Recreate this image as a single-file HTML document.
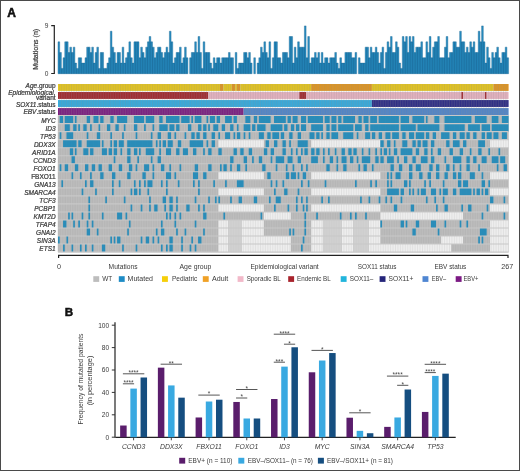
<!DOCTYPE html>
<html><head><meta charset="utf-8"><style>
html,body{margin:0;padding:0;background:#fff;}
body{width:520px;height:471px;overflow:hidden;font-family:"Liberation Sans",sans-serif;}
svg{display:block;filter:blur(0.25px);}
text.bw{stroke:#3a3a3a;stroke-width:0.22px;paint-order:stroke;}
</style></head><body>
<svg width="520" height="471" viewBox="0 0 520 471">
<rect x="0" y="0" width="520" height="471" fill="#fff"/>
<text x="7.3" y="16.5" font-size="12" font-weight="bold" fill="#111" stroke="#111" stroke-width="0.55" font-family='"Liberation Sans", sans-serif'>A</text>
<path d="M58 73.7V41.83H59.69V73.7zM59.69 73.7V52.46H61.38V73.7zM61.38 73.7V68.39H63.06V73.7zM63.06 73.7V57.77H64.75V73.7zM64.75 73.7V41.83H66.44V73.7zM66.44 73.7V41.83H68.13V73.7zM68.13 73.7V52.46H69.81V73.7zM69.81 73.7V47.14H71.5V73.7zM71.5 73.7V52.46H73.19V73.7zM73.19 73.7V47.14H74.88V73.7zM74.88 73.7V63.08H76.56V73.7zM76.56 73.7V68.39H78.25V73.7zM78.25 73.7V57.77H79.94V73.7zM79.94 73.7V57.77H81.63V73.7zM81.63 73.7V63.08H83.31V73.7zM83.31 73.7V63.08H85V73.7zM85 73.7V57.77H86.69V73.7zM86.69 73.7V47.14H88.38V73.7zM88.38 73.7V47.14H90.07V73.7zM90.07 73.7V52.46H91.75V73.7zM91.75 73.7V47.14H93.44V73.7zM93.44 73.7V63.08H95.13V73.7zM95.13 73.7V52.46H96.82V73.7zM96.82 73.7V47.14H98.5V73.7zM98.5 73.7V68.39H100.19V73.7zM100.19 73.7V52.46H101.88V73.7zM101.88 73.7V52.46H103.57V73.7zM103.57 73.7V68.39H105.25V73.7zM105.25 73.7V68.39H106.94V73.7zM106.94 73.7V63.08H108.63V73.7zM108.63 73.7V57.77H110.32V73.7zM110.32 73.7V31.21H112V73.7zM112 73.7V47.14H113.69V73.7zM113.69 73.7V52.46H115.38V73.7zM115.38 73.7V63.08H117.07V73.7zM117.07 73.7V52.46H118.76V73.7zM118.76 73.7V52.46H120.44V73.7zM120.44 73.7V63.08H122.13V73.7zM122.13 73.7V47.14H123.82V73.7zM123.82 73.7V63.08H125.51V73.7zM125.51 73.7V57.77H127.19V73.7zM127.19 73.7V52.46H128.88V73.7zM128.88 73.7V41.83H130.57V73.7zM130.57 73.7V57.77H132.26V73.7zM132.26 73.7V63.08H133.94V73.7zM133.94 73.7V41.83H135.63V73.7zM135.63 73.7V41.83H137.32V73.7zM137.32 73.7V41.83H139.01V73.7zM139.01 73.7V57.77H140.69V73.7zM140.69 73.7V47.14H142.38V73.7zM142.38 73.7V52.46H144.07V73.7zM144.07 73.7V57.77H145.76V73.7zM145.76 73.7V47.14H147.44V73.7zM147.44 73.7V41.83H149.13V73.7zM149.13 73.7V36.52H150.82V73.7zM150.82 73.7V41.83H152.51V73.7zM152.51 73.7V47.14H154.2V73.7zM154.2 73.7V57.77H155.88V73.7zM155.88 73.7V52.46H157.57V73.7zM157.57 73.7V47.14H159.26V73.7zM159.26 73.7V47.14H160.95V73.7zM160.95 73.7V52.46H162.63V73.7zM162.63 73.7V57.77H164.32V73.7zM164.32 73.7V52.46H166.01V73.7zM166.01 73.7V47.14H167.7V73.7zM167.7 73.7V52.46H169.38V73.7zM169.38 73.7V31.21H171.07V73.7zM171.07 73.7V41.83H172.76V73.7zM172.76 73.7V63.08H174.45V73.7zM174.45 73.7V57.77H176.13V73.7zM176.13 73.7V52.46H177.82V73.7zM177.82 73.7V52.46H179.51V73.7zM179.51 73.7V47.14H181.2V73.7zM181.2 73.7V63.08H182.89V73.7zM182.89 73.7V57.77H184.57V73.7zM184.57 73.7V47.14H186.26V73.7zM186.26 73.7V57.77H187.95V73.7zM189.64 73.7V57.77H191.32V73.7zM191.32 73.7V52.46H193.01V73.7zM193.01 73.7V52.46H194.7V73.7zM194.7 73.7V41.83H196.39V73.7zM196.39 73.7V52.46H198.07V73.7zM198.07 73.7V36.52H199.76V73.7zM199.76 73.7V52.46H201.45V73.7zM201.45 73.7V68.39H203.14V73.7zM203.14 73.7V41.83H204.82V73.7zM204.82 73.7V52.46H206.51V73.7zM206.51 73.7V52.46H208.2V73.7zM208.2 73.7V52.46H209.89V73.7zM209.89 73.7V63.08H211.58V73.7zM211.58 73.7V68.39H213.26V73.7zM213.26 73.7V57.77H214.95V73.7zM214.95 73.7V63.08H216.64V73.7zM216.64 73.7V57.77H218.33V73.7zM218.33 73.7V57.77H220.01V73.7zM220.01 73.7V63.08H221.7V73.7zM221.7 73.7V57.77H223.39V73.7zM223.39 73.7V57.77H225.08V73.7zM225.08 73.7V57.77H226.76V73.7zM226.76 73.7V57.77H228.45V73.7zM228.45 73.7V52.46H230.14V73.7zM230.14 73.7V57.77H231.83V73.7zM231.83 73.7V57.77H233.51V73.7zM235.2 73.7V52.46H236.89V73.7zM236.89 73.7V68.39H238.58V73.7zM238.58 73.7V63.08H240.27V73.7zM240.27 73.7V63.08H241.95V73.7zM241.95 73.7V63.08H243.64V73.7zM243.64 73.7V52.46H245.33V73.7zM245.33 73.7V52.46H247.02V73.7zM247.02 73.7V57.77H248.7V73.7zM248.7 73.7V52.46H250.39V73.7zM250.39 73.7V63.08H252.08V73.7zM253.77 73.7V57.77H255.45V73.7zM257.14 73.7V63.08H258.83V73.7zM258.83 73.7V57.77H260.52V73.7zM260.52 73.7V47.14H262.2V73.7zM262.2 73.7V52.46H263.89V73.7zM263.89 73.7V41.83H265.58V73.7zM265.58 73.7V52.46H267.27V73.7zM267.27 73.7V57.77H268.96V73.7zM268.96 73.7V41.83H270.64V73.7zM270.64 73.7V68.39H272.33V73.7zM272.33 73.7V57.77H274.02V73.7zM274.02 73.7V41.83H275.71V73.7zM275.71 73.7V41.83H277.39V73.7zM277.39 73.7V57.77H279.08V73.7zM279.08 73.7V57.77H280.77V73.7zM280.77 73.7V63.08H282.46V73.7zM282.46 73.7V52.46H284.14V73.7zM284.14 73.7V52.46H285.83V73.7zM285.83 73.7V52.46H287.52V73.7zM287.52 73.7V57.77H289.21V73.7zM289.21 73.7V36.52H290.89V73.7zM290.89 73.7V36.52H292.58V73.7zM292.58 73.7V63.08H294.27V73.7zM294.27 73.7V47.14H295.96V73.7zM295.96 73.7V57.77H297.64V73.7zM297.64 73.7V41.83H299.33V73.7zM299.33 73.7V47.14H301.02V73.7zM301.02 73.7V47.14H302.71V73.7zM302.71 73.7V47.14H304.4V73.7zM304.4 73.7V25.9H306.08V73.7zM306.08 73.7V57.77H307.77V73.7zM307.77 73.7V36.52H309.46V73.7zM309.46 73.7V63.08H311.15V73.7zM311.15 73.7V57.77H312.83V73.7zM312.83 73.7V57.77H314.52V73.7zM314.52 73.7V52.46H316.21V73.7zM316.21 73.7V57.77H317.9V73.7zM317.9 73.7V52.46H319.58V73.7zM319.58 73.7V63.08H321.27V73.7zM321.27 73.7V52.46H322.96V73.7zM322.96 73.7V63.08H324.65V73.7zM324.65 73.7V57.77H326.33V73.7zM326.33 73.7V57.77H328.02V73.7zM328.02 73.7V63.08H329.71V73.7zM329.71 73.7V57.77H331.4V73.7zM331.4 73.7V57.77H333.09V73.7zM333.09 73.7V57.77H334.77V73.7zM334.77 73.7V52.46H336.46V73.7zM336.46 73.7V63.08H338.15V73.7zM338.15 73.7V68.39H339.84V73.7zM339.84 73.7V57.77H341.52V73.7zM341.52 73.7V63.08H343.21V73.7zM343.21 73.7V63.08H344.9V73.7zM344.9 73.7V52.46H346.59V73.7zM346.59 73.7V52.46H348.27V73.7zM348.27 73.7V52.46H349.96V73.7zM349.96 73.7V52.46H351.65V73.7zM351.65 73.7V57.77H353.34V73.7zM353.34 73.7V57.77H355.02V73.7zM355.02 73.7V52.46H356.71V73.7zM358.4 73.7V57.77H360.09V73.7zM360.09 73.7V63.08H361.78V73.7zM361.78 73.7V63.08H363.46V73.7zM363.46 73.7V63.08H365.15V73.7zM365.15 73.7V47.14H366.84V73.7zM366.84 73.7V47.14H368.53V73.7zM368.53 73.7V57.77H370.21V73.7zM370.21 73.7V47.14H371.9V73.7zM371.9 73.7V52.46H373.59V73.7zM373.59 73.7V52.46H375.28V73.7zM375.28 73.7V47.14H376.96V73.7zM376.96 73.7V52.46H378.65V73.7zM378.65 73.7V63.08H380.34V73.7zM380.34 73.7V52.46H382.03V73.7zM382.03 73.7V47.14H383.71V73.7zM383.71 73.7V68.39H385.4V73.7zM385.4 73.7V52.46H387.09V73.7zM387.09 73.7V41.83H388.78V73.7zM388.78 73.7V47.14H390.47V73.7zM390.47 73.7V36.52H392.15V73.7zM392.15 73.7V52.46H393.84V73.7zM393.84 73.7V52.46H395.53V73.7zM395.53 73.7V41.83H397.22V73.7zM397.22 73.7V47.14H398.9V73.7zM398.9 73.7V63.08H400.59V73.7zM400.59 73.7V68.39H402.28V73.7zM402.28 73.7V36.52H403.97V73.7zM403.97 73.7V41.83H405.65V73.7zM405.65 73.7V36.52H407.34V73.7zM407.34 73.7V52.46H409.03V73.7zM409.03 73.7V36.52H410.72V73.7zM410.72 73.7V41.83H412.4V73.7zM412.4 73.7V36.52H414.09V73.7zM414.09 73.7V52.46H415.78V73.7zM415.78 73.7V47.14H417.47V73.7zM417.47 73.7V47.14H419.16V73.7zM419.16 73.7V47.14H420.84V73.7zM420.84 73.7V41.83H422.53V73.7zM422.53 73.7V57.77H424.22V73.7zM424.22 73.7V57.77H425.91V73.7zM425.91 73.7V41.83H427.59V73.7zM427.59 73.7V52.46H429.28V73.7zM429.28 73.7V36.52H430.97V73.7zM430.97 73.7V57.77H432.66V73.7zM432.66 73.7V47.14H434.34V73.7zM434.34 73.7V41.83H436.03V73.7zM436.03 73.7V41.83H437.72V73.7zM437.72 73.7V36.52H439.41V73.7zM439.41 73.7V57.77H441.09V73.7zM441.09 73.7V57.77H442.78V73.7zM442.78 73.7V57.77H444.47V73.7zM444.47 73.7V47.14H446.16V73.7zM446.16 73.7V36.52H447.84V73.7zM447.84 73.7V57.77H449.53V73.7zM449.53 73.7V52.46H451.22V73.7zM451.22 73.7V52.46H452.91V73.7zM452.91 73.7V41.83H454.6V73.7zM454.6 73.7V41.83H456.28V73.7zM456.28 73.7V47.14H457.97V73.7zM457.97 73.7V47.14H459.66V73.7zM459.66 73.7V31.21H461.35V73.7zM461.35 73.7V41.83H463.03V73.7zM463.03 73.7V41.83H464.72V73.7zM464.72 73.7V52.46H466.41V73.7zM466.41 73.7V47.14H468.1V73.7zM468.1 73.7V52.46H469.78V73.7zM469.78 73.7V41.83H471.47V73.7zM471.47 73.7V47.14H473.16V73.7zM473.16 73.7V41.83H474.85V73.7zM474.85 73.7V52.46H476.53V73.7zM476.53 73.7V52.46H478.22V73.7zM478.22 73.7V31.21H479.91V73.7zM479.91 73.7V41.83H481.6V73.7zM481.6 73.7V25.9H483.29V73.7zM483.29 73.7V41.83H484.97V73.7zM484.97 73.7V63.08H486.66V73.7zM486.66 73.7V47.14H488.35V73.7zM488.35 73.7V57.77H490.04V73.7zM490.04 73.7V68.39H491.72V73.7zM491.72 73.7V52.46H493.41V73.7zM493.41 73.7V57.77H495.1V73.7zM495.1 73.7V52.46H496.79V73.7zM496.79 73.7V47.14H498.47V73.7zM498.47 73.7V57.77H500.16V73.7zM500.16 73.7V63.08H501.85V73.7zM501.85 73.7V52.46H503.54V73.7zM503.54 73.7V52.46H505.22V73.7zM505.22 73.7V47.14H506.91V73.7zM506.91 73.7V57.77H508.6V73.7z" fill="#288dc1" stroke="#1a6592" stroke-width="0.4"/>
<path d="M51.2 25.7H54.3V73.5H51.2" fill="none" stroke="#222" stroke-width="1.2"/>
<text x="48.4" y="27.9" font-size="6.6" text-anchor="end" fill="#3a3a3a" font-family='"Liberation Sans", sans-serif'>9</text>
<text x="48.4" y="75.5" font-size="6.6" text-anchor="end" fill="#3a3a3a" font-family='"Liberation Sans", sans-serif'>0</text>
<text class="bw" transform="translate(37.9 49.35) rotate(-90)" font-size="7.8" text-anchor="middle" fill="#3a3a3a" font-family='"Liberation Sans", sans-serif' textLength="41" lengthAdjust="spacingAndGlyphs">Mutations (n)</text>
<rect x="58" y="84" width="162.01" height="6.9" fill="#e8c81c"/>
<rect x="220.01" y="84" width="3.38" height="6.9" fill="#e3961e"/>
<rect x="223.39" y="84" width="8.44" height="6.9" fill="#e8c81c"/>
<rect x="231.83" y="84" width="3.38" height="6.9" fill="#e3961e"/>
<rect x="235.2" y="84" width="1.69" height="6.9" fill="#e8c81c"/>
<rect x="236.89" y="84" width="3.38" height="6.9" fill="#e3961e"/>
<rect x="240.27" y="84" width="70.88" height="6.9" fill="#e8c81c"/>
<rect x="311.15" y="84" width="60.76" height="6.9" fill="#e3961e"/>
<rect x="371.9" y="84" width="121.51" height="6.9" fill="#e8c81c"/>
<rect x="493.41" y="84" width="15.19" height="6.9" fill="#e3961e"/>
<rect x="58" y="92.03" width="150.2" height="6.9" fill="#a3282e"/>
<rect x="208.2" y="92.03" width="91.13" height="6.9" fill="#eab5c3"/>
<rect x="299.33" y="92.03" width="6.75" height="6.9" fill="#a3282e"/>
<rect x="306.08" y="92.03" width="155.26" height="6.9" fill="#eab5c3"/>
<rect x="461.35" y="92.03" width="1.69" height="6.9" fill="#a3282e"/>
<rect x="463.03" y="92.03" width="21.94" height="6.9" fill="#eab5c3"/>
<rect x="484.97" y="92.03" width="1.69" height="6.9" fill="#a3282e"/>
<rect x="486.66" y="92.03" width="21.94" height="6.9" fill="#eab5c3"/>
<rect x="58" y="100.06" width="313.9" height="6.9" fill="#33ace0"/>
<rect x="371.9" y="100.06" width="136.7" height="6.9" fill="#2b2a86"/>
<rect x="58" y="108.09" width="185.64" height="6.9" fill="#7c1c82"/>
<rect x="243.64" y="108.09" width="264.96" height="6.9" fill="#5086cb"/>
<rect x="58" y="115.57" width="450.6" height="136.51" fill="#b5b5b5"/>
<path d="M218.33 139.66h45.57v8.03h-45.57zM311.15 139.66h69.19v8.03h-69.19zM490.04 139.66h18.56v8.03h-18.56zM218.33 171.78h45.57v8.03h-45.57zM311.15 171.78h69.19v8.03h-69.19zM490.04 171.78h18.56v8.03h-18.56zM218.33 187.84h45.57v8.03h-45.57zM311.15 187.84h69.19v8.03h-69.19zM490.04 187.84h18.56v8.03h-18.56zM218.33 203.9h45.57v8.03h-45.57zM311.15 203.9h69.19v8.03h-69.19zM490.04 203.9h18.56v8.03h-18.56zM263.89 211.93h27v8.03h-27zM380.34 211.93h82.69v8.03h-82.69zM218.33 219.96h10.13v8.03h-10.13zM241.95 219.96h21.94v8.03h-21.94zM311.15 219.96h11.81v8.03h-11.81zM341.52 219.96h11.81v8.03h-11.81zM368.53 219.96h11.81v8.03h-11.81zM490.04 219.96h18.56v8.03h-18.56zM218.33 227.99h10.13v8.03h-10.13zM241.95 227.99h21.94v8.03h-21.94zM311.15 227.99h11.81v8.03h-11.81zM341.52 227.99h11.81v8.03h-11.81zM368.53 227.99h11.81v8.03h-11.81zM490.04 227.99h18.56v8.03h-18.56zM218.33 236.02h10.13v8.03h-10.13zM241.95 236.02h48.94v8.03h-48.94zM311.15 236.02h11.81v8.03h-11.81zM341.52 236.02h11.81v8.03h-11.81zM368.53 236.02h11.81v8.03h-11.81zM441.09 236.02h21.94v8.03h-21.94zM490.04 236.02h18.56v8.03h-18.56zM218.33 244.05h10.13v8.03h-10.13zM241.95 244.05h48.94v8.03h-48.94zM311.15 244.05h11.81v8.03h-11.81zM341.52 244.05h11.81v8.03h-11.81zM368.53 244.05h82.69v8.03h-82.69zM490.04 244.05h18.56v8.03h-18.56z" fill="#f5f5f5"/>
<path d="M228.45 219.96h13.5v8.03h-13.5zM322.96 219.96h18.56v8.03h-18.56zM353.34 219.96h15.19v8.03h-15.19zM228.45 227.99h13.5v8.03h-13.5zM322.96 227.99h18.56v8.03h-18.56zM353.34 227.99h15.19v8.03h-15.19zM228.45 236.02h13.5v8.03h-13.5zM322.96 236.02h18.56v8.03h-18.56zM353.34 236.02h15.19v8.03h-15.19zM228.45 244.05h13.5v8.03h-13.5zM322.96 244.05h18.56v8.03h-18.56zM353.34 244.05h15.19v8.03h-15.19z" fill="#d3d3d3"/>
<path d="M58 115.57V252.08M59.69 115.57V252.08M61.38 115.57V252.08M63.06 115.57V252.08M64.75 115.57V252.08M66.44 115.57V252.08M68.13 115.57V252.08M69.81 115.57V252.08M71.5 115.57V252.08M73.19 115.57V252.08M74.88 115.57V252.08M76.56 115.57V252.08M78.25 115.57V252.08M79.94 115.57V252.08M81.63 115.57V252.08M83.31 115.57V252.08M85 115.57V252.08M86.69 115.57V252.08M88.38 115.57V252.08M90.07 115.57V252.08M91.75 115.57V252.08M93.44 115.57V252.08M95.13 115.57V252.08M96.82 115.57V252.08M98.5 115.57V252.08M100.19 115.57V252.08M101.88 115.57V252.08M103.57 115.57V252.08M105.25 115.57V252.08M106.94 115.57V252.08M108.63 115.57V252.08M110.32 115.57V252.08M112 115.57V252.08M113.69 115.57V252.08M115.38 115.57V252.08M117.07 115.57V252.08M118.76 115.57V252.08M120.44 115.57V252.08M122.13 115.57V252.08M123.82 115.57V252.08M125.51 115.57V252.08M127.19 115.57V252.08M128.88 115.57V252.08M130.57 115.57V252.08M132.26 115.57V252.08M133.94 115.57V252.08M135.63 115.57V252.08M137.32 115.57V252.08M139.01 115.57V252.08M140.69 115.57V252.08M142.38 115.57V252.08M144.07 115.57V252.08M145.76 115.57V252.08M147.44 115.57V252.08M149.13 115.57V252.08M150.82 115.57V252.08M152.51 115.57V252.08M154.2 115.57V252.08M155.88 115.57V252.08M157.57 115.57V252.08M159.26 115.57V252.08M160.95 115.57V252.08M162.63 115.57V252.08M164.32 115.57V252.08M166.01 115.57V252.08M167.7 115.57V252.08M169.38 115.57V252.08M171.07 115.57V252.08M172.76 115.57V252.08M174.45 115.57V252.08M176.13 115.57V252.08M177.82 115.57V252.08M179.51 115.57V252.08M181.2 115.57V252.08M182.89 115.57V252.08M184.57 115.57V252.08M186.26 115.57V252.08M187.95 115.57V252.08M189.64 115.57V252.08M191.32 115.57V252.08M193.01 115.57V252.08M194.7 115.57V252.08M196.39 115.57V252.08M198.07 115.57V252.08M199.76 115.57V252.08M201.45 115.57V252.08M203.14 115.57V252.08M204.82 115.57V252.08M206.51 115.57V252.08M208.2 115.57V252.08M209.89 115.57V252.08M211.58 115.57V252.08M213.26 115.57V252.08M214.95 115.57V252.08M216.64 115.57V252.08M218.33 115.57V252.08M220.01 115.57V252.08M221.7 115.57V252.08M223.39 115.57V252.08M225.08 115.57V252.08M226.76 115.57V252.08M228.45 115.57V252.08M230.14 115.57V252.08M231.83 115.57V252.08M233.51 115.57V252.08M235.2 115.57V252.08M236.89 115.57V252.08M238.58 115.57V252.08M240.27 115.57V252.08M241.95 115.57V252.08M243.64 115.57V252.08M245.33 115.57V252.08M247.02 115.57V252.08M248.7 115.57V252.08M250.39 115.57V252.08M252.08 115.57V252.08M253.77 115.57V252.08M255.45 115.57V252.08M257.14 115.57V252.08M258.83 115.57V252.08M260.52 115.57V252.08M262.2 115.57V252.08M263.89 115.57V252.08M265.58 115.57V252.08M267.27 115.57V252.08M268.96 115.57V252.08M270.64 115.57V252.08M272.33 115.57V252.08M274.02 115.57V252.08M275.71 115.57V252.08M277.39 115.57V252.08M279.08 115.57V252.08M280.77 115.57V252.08M282.46 115.57V252.08M284.14 115.57V252.08M285.83 115.57V252.08M287.52 115.57V252.08M289.21 115.57V252.08M290.89 115.57V252.08M292.58 115.57V252.08M294.27 115.57V252.08M295.96 115.57V252.08M297.64 115.57V252.08M299.33 115.57V252.08M301.02 115.57V252.08M302.71 115.57V252.08M304.4 115.57V252.08M306.08 115.57V252.08M307.77 115.57V252.08M309.46 115.57V252.08M311.15 115.57V252.08M312.83 115.57V252.08M314.52 115.57V252.08M316.21 115.57V252.08M317.9 115.57V252.08M319.58 115.57V252.08M321.27 115.57V252.08M322.96 115.57V252.08M324.65 115.57V252.08M326.33 115.57V252.08M328.02 115.57V252.08M329.71 115.57V252.08M331.4 115.57V252.08M333.09 115.57V252.08M334.77 115.57V252.08M336.46 115.57V252.08M338.15 115.57V252.08M339.84 115.57V252.08M341.52 115.57V252.08M343.21 115.57V252.08M344.9 115.57V252.08M346.59 115.57V252.08M348.27 115.57V252.08M349.96 115.57V252.08M351.65 115.57V252.08M353.34 115.57V252.08M355.02 115.57V252.08M356.71 115.57V252.08M358.4 115.57V252.08M360.09 115.57V252.08M361.78 115.57V252.08M363.46 115.57V252.08M365.15 115.57V252.08M366.84 115.57V252.08M368.53 115.57V252.08M370.21 115.57V252.08M371.9 115.57V252.08M373.59 115.57V252.08M375.28 115.57V252.08M376.96 115.57V252.08M378.65 115.57V252.08M380.34 115.57V252.08M382.03 115.57V252.08M383.71 115.57V252.08M385.4 115.57V252.08M387.09 115.57V252.08M388.78 115.57V252.08M390.47 115.57V252.08M392.15 115.57V252.08M393.84 115.57V252.08M395.53 115.57V252.08M397.22 115.57V252.08M398.9 115.57V252.08M400.59 115.57V252.08M402.28 115.57V252.08M403.97 115.57V252.08M405.65 115.57V252.08M407.34 115.57V252.08M409.03 115.57V252.08M410.72 115.57V252.08M412.4 115.57V252.08M414.09 115.57V252.08M415.78 115.57V252.08M417.47 115.57V252.08M419.16 115.57V252.08M420.84 115.57V252.08M422.53 115.57V252.08M424.22 115.57V252.08M425.91 115.57V252.08M427.59 115.57V252.08M429.28 115.57V252.08M430.97 115.57V252.08M432.66 115.57V252.08M434.34 115.57V252.08M436.03 115.57V252.08M437.72 115.57V252.08M439.41 115.57V252.08M441.09 115.57V252.08M442.78 115.57V252.08M444.47 115.57V252.08M446.16 115.57V252.08M447.84 115.57V252.08M449.53 115.57V252.08M451.22 115.57V252.08M452.91 115.57V252.08M454.6 115.57V252.08M456.28 115.57V252.08M457.97 115.57V252.08M459.66 115.57V252.08M461.35 115.57V252.08M463.03 115.57V252.08M464.72 115.57V252.08M466.41 115.57V252.08M468.1 115.57V252.08M469.78 115.57V252.08M471.47 115.57V252.08M473.16 115.57V252.08M474.85 115.57V252.08M476.53 115.57V252.08M478.22 115.57V252.08M479.91 115.57V252.08M481.6 115.57V252.08M483.29 115.57V252.08M484.97 115.57V252.08M486.66 115.57V252.08M488.35 115.57V252.08M490.04 115.57V252.08M491.72 115.57V252.08M493.41 115.57V252.08M495.1 115.57V252.08M496.79 115.57V252.08M498.47 115.57V252.08M500.16 115.57V252.08M501.85 115.57V252.08M503.54 115.57V252.08M505.22 115.57V252.08M506.91 115.57V252.08M508.6 115.57V252.08" stroke="#c8c8c8" stroke-width="0.45" fill="none"/>
<path d="M59.69 115.57h3.38v8.03h-3.38zM64.75 115.57h8.44v8.03h-8.44zM74.88 115.57h1.69v8.03h-1.69zM86.69 115.57h3.38v8.03h-3.38zM93.44 115.57h5.06v8.03h-5.06zM100.19 115.57h3.38v8.03h-3.38zM110.32 115.57h3.38v8.03h-3.38zM117.07 115.57h10.13v8.03h-10.13zM133.94 115.57h10.13v8.03h-10.13zM145.76 115.57h8.44v8.03h-8.44zM159.26 115.57h3.38v8.03h-3.38zM166.01 115.57h13.5v8.03h-13.5zM181.2 115.57h8.44v8.03h-8.44zM191.32 115.57h1.69v8.03h-1.69zM194.7 115.57h6.75v8.03h-6.75zM206.51 115.57h1.69v8.03h-1.69zM209.89 115.57h5.06v8.03h-5.06zM216.64 115.57h3.38v8.03h-3.38zM225.08 115.57h6.75v8.03h-6.75zM233.51 115.57h3.38v8.03h-3.38zM245.33 115.57h5.06v8.03h-5.06zM253.77 115.57h3.38v8.03h-3.38zM258.83 115.57h11.81v8.03h-11.81zM274.02 115.57h11.81v8.03h-11.81zM287.52 115.57h3.38v8.03h-3.38zM292.58 115.57h5.06v8.03h-5.06zM301.02 115.57h5.06v8.03h-5.06zM307.77 115.57h15.19v8.03h-15.19zM324.65 115.57h5.06v8.03h-5.06zM331.4 115.57h5.06v8.03h-5.06zM338.15 115.57h3.38v8.03h-3.38zM343.21 115.57h11.81v8.03h-11.81zM358.4 115.57h3.38v8.03h-3.38zM363.46 115.57h5.06v8.03h-5.06zM370.21 115.57h6.75v8.03h-6.75zM378.65 115.57h20.25v8.03h-20.25zM400.59 115.57h8.44v8.03h-8.44zM412.4 115.57h11.81v8.03h-11.81zM425.91 115.57h1.69v8.03h-1.69zM434.34 115.57h5.06v8.03h-5.06zM444.47 115.57h27v8.03h-27zM474.85 115.57h11.81v8.03h-11.81zM491.72 115.57h6.75v8.03h-6.75zM501.85 115.57h6.75v8.03h-6.75zM64.75 123.6h5.06v8.03h-5.06zM73.19 123.6h3.38v8.03h-3.38zM78.25 123.6h1.69v8.03h-1.69zM83.31 123.6h3.38v8.03h-3.38zM90.07 123.6h1.69v8.03h-1.69zM98.5 123.6h1.69v8.03h-1.69zM106.94 123.6h3.38v8.03h-3.38zM115.38 123.6h3.38v8.03h-3.38zM123.82 123.6h1.69v8.03h-1.69zM133.94 123.6h3.38v8.03h-3.38zM144.07 123.6h1.69v8.03h-1.69zM152.51 123.6h1.69v8.03h-1.69zM159.26 123.6h8.44v8.03h-8.44zM169.38 123.6h5.06v8.03h-5.06zM176.13 123.6h3.38v8.03h-3.38zM187.95 123.6h3.38v8.03h-3.38zM198.07 123.6h3.38v8.03h-3.38zM203.14 123.6h3.38v8.03h-3.38zM208.2 123.6h1.69v8.03h-1.69zM213.26 123.6h5.06v8.03h-5.06zM221.7 123.6h3.38v8.03h-3.38zM230.14 123.6h3.38v8.03h-3.38zM236.89 123.6h1.69v8.03h-1.69zM243.64 123.6h6.75v8.03h-6.75zM252.08 123.6h3.38v8.03h-3.38zM257.14 123.6h8.44v8.03h-8.44zM270.64 123.6h11.81v8.03h-11.81zM284.14 123.6h3.38v8.03h-3.38zM290.89 123.6h3.38v8.03h-3.38zM295.96 123.6h3.38v8.03h-3.38zM301.02 123.6h5.06v8.03h-5.06zM311.15 123.6h11.81v8.03h-11.81zM326.33 123.6h3.38v8.03h-3.38zM331.4 123.6h5.06v8.03h-5.06zM338.15 123.6h15.19v8.03h-15.19zM355.02 123.6h6.75v8.03h-6.75zM365.15 123.6h3.38v8.03h-3.38zM370.21 123.6h28.69v8.03h-28.69zM400.59 123.6h15.19v8.03h-15.19zM417.47 123.6h21.94v8.03h-21.94zM444.47 123.6h20.25v8.03h-20.25zM468.1 123.6h11.81v8.03h-11.81zM481.6 123.6h8.44v8.03h-8.44zM491.72 123.6h16.88v8.03h-16.88zM59.69 131.63h1.69v8.03h-1.69zM66.44 131.63h6.75v8.03h-6.75zM86.69 131.63h1.69v8.03h-1.69zM96.82 131.63h3.38v8.03h-3.38zM110.32 131.63h1.69v8.03h-1.69zM122.13 131.63h1.69v8.03h-1.69zM135.63 131.63h1.69v8.03h-1.69zM150.82 131.63h1.69v8.03h-1.69zM157.57 131.63h3.38v8.03h-3.38zM167.7 131.63h3.38v8.03h-3.38zM174.45 131.63h1.69v8.03h-1.69zM184.57 131.63h1.69v8.03h-1.69zM191.32 131.63h3.38v8.03h-3.38zM196.39 131.63h3.38v8.03h-3.38zM203.14 131.63h3.38v8.03h-3.38zM211.58 131.63h3.38v8.03h-3.38zM218.33 131.63h1.69v8.03h-1.69zM225.08 131.63h5.06v8.03h-5.06zM233.51 131.63h1.69v8.03h-1.69zM236.89 131.63h3.38v8.03h-3.38zM243.64 131.63h1.69v8.03h-1.69zM248.7 131.63h1.69v8.03h-1.69zM258.83 131.63h5.06v8.03h-5.06zM267.27 131.63h3.38v8.03h-3.38zM272.33 131.63h6.75v8.03h-6.75zM280.77 131.63h3.38v8.03h-3.38zM289.21 131.63h3.38v8.03h-3.38zM297.64 131.63h3.38v8.03h-3.38zM309.46 131.63h5.06v8.03h-5.06zM316.21 131.63h3.38v8.03h-3.38zM321.27 131.63h1.69v8.03h-1.69zM326.33 131.63h3.38v8.03h-3.38zM331.4 131.63h6.75v8.03h-6.75zM343.21 131.63h10.13v8.03h-10.13zM356.71 131.63h1.69v8.03h-1.69zM365.15 131.63h5.06v8.03h-5.06zM371.9 131.63h3.38v8.03h-3.38zM378.65 131.63h3.38v8.03h-3.38zM385.4 131.63h5.06v8.03h-5.06zM392.15 131.63h6.75v8.03h-6.75zM402.28 131.63h3.38v8.03h-3.38zM409.03 131.63h5.06v8.03h-5.06zM415.78 131.63h8.44v8.03h-8.44zM425.91 131.63h3.38v8.03h-3.38zM432.66 131.63h3.38v8.03h-3.38zM441.09 131.63h8.44v8.03h-8.44zM452.91 131.63h3.38v8.03h-3.38zM459.66 131.63h5.06v8.03h-5.06zM466.41 131.63h3.38v8.03h-3.38zM473.16 131.63h3.38v8.03h-3.38zM481.6 131.63h3.38v8.03h-3.38zM486.66 131.63h5.06v8.03h-5.06zM493.41 131.63h5.06v8.03h-5.06zM501.85 131.63h5.06v8.03h-5.06zM63.06 139.66h13.5v8.03h-13.5zM78.25 139.66h3.38v8.03h-3.38zM86.69 139.66h13.5v8.03h-13.5zM101.88 139.66h1.69v8.03h-1.69zM110.32 139.66h1.69v8.03h-1.69zM113.69 139.66h3.38v8.03h-3.38zM118.76 139.66h5.06v8.03h-5.06zM127.19 139.66h25.31v8.03h-25.31zM155.88 139.66h1.69v8.03h-1.69zM159.26 139.66h1.69v8.03h-1.69zM162.63 139.66h3.38v8.03h-3.38zM167.7 139.66h5.06v8.03h-5.06zM177.82 139.66h3.38v8.03h-3.38zM189.64 139.66h13.5v8.03h-13.5zM206.51 139.66h1.69v8.03h-1.69zM211.58 139.66h3.38v8.03h-3.38zM265.58 139.66h3.38v8.03h-3.38zM274.02 139.66h3.38v8.03h-3.38zM282.46 139.66h3.38v8.03h-3.38zM289.21 139.66h1.69v8.03h-1.69zM297.64 139.66h10.13v8.03h-10.13zM380.34 139.66h3.38v8.03h-3.38zM387.09 139.66h3.38v8.03h-3.38zM393.84 139.66h1.69v8.03h-1.69zM402.28 139.66h5.06v8.03h-5.06zM412.4 139.66h3.38v8.03h-3.38zM417.47 139.66h3.38v8.03h-3.38zM422.53 139.66h5.06v8.03h-5.06zM430.97 139.66h3.38v8.03h-3.38zM446.16 139.66h3.38v8.03h-3.38zM452.91 139.66h6.75v8.03h-6.75zM463.03 139.66h3.38v8.03h-3.38zM478.22 139.66h6.75v8.03h-6.75zM69.81 147.69h3.38v8.03h-3.38zM74.88 147.69h1.69v8.03h-1.69zM83.31 147.69h5.06v8.03h-5.06zM90.07 147.69h3.38v8.03h-3.38zM101.88 147.69h5.06v8.03h-5.06zM108.63 147.69h3.38v8.03h-3.38zM113.69 147.69h3.38v8.03h-3.38zM120.44 147.69h1.69v8.03h-1.69zM127.19 147.69h3.38v8.03h-3.38zM133.94 147.69h3.38v8.03h-3.38zM139.01 147.69h1.69v8.03h-1.69zM145.76 147.69h8.44v8.03h-8.44zM159.26 147.69h1.69v8.03h-1.69zM166.01 147.69h5.06v8.03h-5.06zM176.13 147.69h3.38v8.03h-3.38zM182.89 147.69h5.06v8.03h-5.06zM193.01 147.69h3.38v8.03h-3.38zM203.14 147.69h1.69v8.03h-1.69zM208.2 147.69h3.38v8.03h-3.38zM218.33 147.69h3.38v8.03h-3.38zM233.51 147.69h3.38v8.03h-3.38zM240.27 147.69h3.38v8.03h-3.38zM248.7 147.69h3.38v8.03h-3.38zM263.89 147.69h3.38v8.03h-3.38zM270.64 147.69h3.38v8.03h-3.38zM282.46 147.69h3.38v8.03h-3.38zM290.89 147.69h1.69v8.03h-1.69zM295.96 147.69h1.69v8.03h-1.69zM301.02 147.69h1.69v8.03h-1.69zM304.4 147.69h3.38v8.03h-3.38zM311.15 147.69h3.38v8.03h-3.38zM316.21 147.69h3.38v8.03h-3.38zM322.96 147.69h1.69v8.03h-1.69zM328.02 147.69h1.69v8.03h-1.69zM334.77 147.69h1.69v8.03h-1.69zM341.52 147.69h3.38v8.03h-3.38zM348.27 147.69h3.38v8.03h-3.38zM353.34 147.69h3.38v8.03h-3.38zM361.78 147.69h1.69v8.03h-1.69zM368.53 147.69h1.69v8.03h-1.69zM375.28 147.69h1.69v8.03h-1.69zM380.34 147.69h1.69v8.03h-1.69zM383.71 147.69h3.38v8.03h-3.38zM388.78 147.69h1.69v8.03h-1.69zM393.84 147.69h3.38v8.03h-3.38zM400.59 147.69h11.81v8.03h-11.81zM415.78 147.69h3.38v8.03h-3.38zM424.22 147.69h3.38v8.03h-3.38zM430.97 147.69h1.69v8.03h-1.69zM437.72 147.69h3.38v8.03h-3.38zM449.53 147.69h3.38v8.03h-3.38zM459.66 147.69h3.38v8.03h-3.38zM469.78 147.69h1.69v8.03h-1.69zM478.22 147.69h3.38v8.03h-3.38zM488.35 147.69h1.69v8.03h-1.69zM498.47 147.69h1.69v8.03h-1.69zM71.5 155.72h3.38v8.03h-3.38zM113.69 155.72h1.69v8.03h-1.69zM127.19 155.72h3.38v8.03h-3.38zM137.32 155.72h1.69v8.03h-1.69zM150.82 155.72h1.69v8.03h-1.69zM157.57 155.72h3.38v8.03h-3.38zM230.14 155.72h3.38v8.03h-3.38zM243.64 155.72h3.38v8.03h-3.38zM252.08 155.72h1.69v8.03h-1.69zM258.83 155.72h3.38v8.03h-3.38zM270.64 155.72h1.69v8.03h-1.69zM275.71 155.72h8.44v8.03h-8.44zM287.52 155.72h5.06v8.03h-5.06zM297.64 155.72h3.38v8.03h-3.38zM311.15 155.72h6.75v8.03h-6.75zM322.96 155.72h1.69v8.03h-1.69zM329.71 155.72h3.38v8.03h-3.38zM336.46 155.72h1.69v8.03h-1.69zM341.52 155.72h5.06v8.03h-5.06zM349.96 155.72h3.38v8.03h-3.38zM356.71 155.72h1.69v8.03h-1.69zM361.78 155.72h8.44v8.03h-8.44zM375.28 155.72h3.38v8.03h-3.38zM380.34 155.72h3.38v8.03h-3.38zM387.09 155.72h6.75v8.03h-6.75zM397.22 155.72h1.69v8.03h-1.69zM403.97 155.72h3.38v8.03h-3.38zM412.4 155.72h3.38v8.03h-3.38zM420.84 155.72h6.75v8.03h-6.75zM430.97 155.72h3.38v8.03h-3.38zM444.47 155.72h1.69v8.03h-1.69zM452.91 155.72h8.44v8.03h-8.44zM466.41 155.72h3.38v8.03h-3.38zM473.16 155.72h3.38v8.03h-3.38zM481.6 155.72h5.06v8.03h-5.06zM491.72 155.72h6.75v8.03h-6.75zM500.16 155.72h5.06v8.03h-5.06zM59.69 163.75h1.69v8.03h-1.69zM64.75 163.75h3.38v8.03h-3.38zM74.88 163.75h3.38v8.03h-3.38zM85 163.75h3.38v8.03h-3.38zM91.75 163.75h3.38v8.03h-3.38zM98.5 163.75h3.38v8.03h-3.38zM108.63 163.75h3.38v8.03h-3.38zM118.76 163.75h3.38v8.03h-3.38zM128.88 163.75h3.38v8.03h-3.38zM135.63 163.75h1.69v8.03h-1.69zM144.07 163.75h5.06v8.03h-5.06zM152.51 163.75h1.69v8.03h-1.69zM160.95 163.75h3.38v8.03h-3.38zM169.38 163.75h1.69v8.03h-1.69zM179.51 163.75h1.69v8.03h-1.69zM194.7 163.75h3.38v8.03h-3.38zM208.2 163.75h3.38v8.03h-3.38zM220.01 163.75h1.69v8.03h-1.69zM223.39 163.75h3.38v8.03h-3.38zM230.14 163.75h1.69v8.03h-1.69zM236.89 163.75h3.38v8.03h-3.38zM245.33 163.75h1.69v8.03h-1.69zM262.2 163.75h3.38v8.03h-3.38zM275.71 163.75h1.69v8.03h-1.69zM285.83 163.75h1.69v8.03h-1.69zM292.58 163.75h1.69v8.03h-1.69zM301.02 163.75h1.69v8.03h-1.69zM306.08 163.75h1.69v8.03h-1.69zM326.33 163.75h3.38v8.03h-3.38zM336.46 163.75h1.69v8.03h-1.69zM343.21 163.75h3.38v8.03h-3.38zM358.4 163.75h1.69v8.03h-1.69zM363.46 163.75h3.38v8.03h-3.38zM371.9 163.75h1.69v8.03h-1.69zM390.47 163.75h3.38v8.03h-3.38zM398.9 163.75h3.38v8.03h-3.38zM409.03 163.75h3.38v8.03h-3.38zM415.78 163.75h5.06v8.03h-5.06zM429.28 163.75h3.38v8.03h-3.38zM436.03 163.75h3.38v8.03h-3.38zM446.16 163.75h3.38v8.03h-3.38zM452.91 163.75h1.69v8.03h-1.69zM459.66 163.75h1.69v8.03h-1.69zM466.41 163.75h3.38v8.03h-3.38zM478.22 163.75h1.69v8.03h-1.69zM496.79 163.75h1.69v8.03h-1.69zM503.54 163.75h3.38v8.03h-3.38zM71.5 171.78h1.69v8.03h-1.69zM79.94 171.78h1.69v8.03h-1.69zM90.07 171.78h1.69v8.03h-1.69zM100.19 171.78h3.38v8.03h-3.38zM112 171.78h3.38v8.03h-3.38zM127.19 171.78h3.38v8.03h-3.38zM142.38 171.78h3.38v8.03h-3.38zM152.51 171.78h1.69v8.03h-1.69zM166.01 171.78h5.06v8.03h-5.06zM174.45 171.78h1.69v8.03h-1.69zM193.01 171.78h5.06v8.03h-5.06zM203.14 171.78h3.38v8.03h-3.38zM267.27 171.78h3.38v8.03h-3.38zM285.83 171.78h3.38v8.03h-3.38zM290.89 171.78h5.06v8.03h-5.06zM297.64 171.78h1.69v8.03h-1.69zM302.71 171.78h3.38v8.03h-3.38zM387.09 171.78h1.69v8.03h-1.69zM390.47 171.78h1.69v8.03h-1.69zM395.53 171.78h5.06v8.03h-5.06zM409.03 171.78h3.38v8.03h-3.38zM419.16 171.78h3.38v8.03h-3.38zM427.59 171.78h3.38v8.03h-3.38zM436.03 171.78h3.38v8.03h-3.38zM444.47 171.78h3.38v8.03h-3.38zM452.91 171.78h3.38v8.03h-3.38zM457.97 171.78h3.38v8.03h-3.38zM469.78 171.78h5.06v8.03h-5.06zM481.6 171.78h1.69v8.03h-1.69zM61.38 179.81h1.69v8.03h-1.69zM85 179.81h1.69v8.03h-1.69zM90.07 179.81h3.38v8.03h-3.38zM112 179.81h1.69v8.03h-1.69zM118.76 179.81h1.69v8.03h-1.69zM133.94 179.81h1.69v8.03h-1.69zM139.01 179.81h1.69v8.03h-1.69zM144.07 179.81h1.69v8.03h-1.69zM147.44 179.81h5.06v8.03h-5.06zM160.95 179.81h1.69v8.03h-1.69zM166.01 179.81h1.69v8.03h-1.69zM177.82 179.81h1.69v8.03h-1.69zM193.01 179.81h1.69v8.03h-1.69zM198.07 179.81h1.69v8.03h-1.69zM213.26 179.81h1.69v8.03h-1.69zM225.08 179.81h1.69v8.03h-1.69zM236.89 179.81h6.75v8.03h-6.75zM270.64 179.81h1.69v8.03h-1.69zM275.71 179.81h1.69v8.03h-1.69zM282.46 179.81h1.69v8.03h-1.69zM301.02 179.81h1.69v8.03h-1.69zM307.77 179.81h1.69v8.03h-1.69zM324.65 179.81h1.69v8.03h-1.69zM355.02 179.81h1.69v8.03h-1.69zM370.21 179.81h1.69v8.03h-1.69zM375.28 179.81h1.69v8.03h-1.69zM387.09 179.81h1.69v8.03h-1.69zM390.47 179.81h1.69v8.03h-1.69zM403.97 179.81h3.38v8.03h-3.38zM409.03 179.81h1.69v8.03h-1.69zM424.22 179.81h1.69v8.03h-1.69zM429.28 179.81h1.69v8.03h-1.69zM442.78 179.81h1.69v8.03h-1.69zM457.97 179.81h3.38v8.03h-3.38zM463.03 179.81h5.06v8.03h-5.06zM481.6 179.81h3.38v8.03h-3.38zM488.35 179.81h1.69v8.03h-1.69zM81.63 187.84h1.69v8.03h-1.69zM95.13 187.84h1.69v8.03h-1.69zM112 187.84h1.69v8.03h-1.69zM130.57 187.84h1.69v8.03h-1.69zM133.94 187.84h3.38v8.03h-3.38zM139.01 187.84h1.69v8.03h-1.69zM147.44 187.84h1.69v8.03h-1.69zM166.01 187.84h1.69v8.03h-1.69zM198.07 187.84h1.69v8.03h-1.69zM274.02 187.84h1.69v8.03h-1.69zM284.14 187.84h3.38v8.03h-3.38zM297.64 187.84h1.69v8.03h-1.69zM387.09 187.84h11.81v8.03h-11.81zM400.59 187.84h3.38v8.03h-3.38zM409.03 187.84h1.69v8.03h-1.69zM412.4 187.84h1.69v8.03h-1.69zM417.47 187.84h1.69v8.03h-1.69zM420.84 187.84h5.06v8.03h-5.06zM430.97 187.84h5.06v8.03h-5.06zM439.41 187.84h1.69v8.03h-1.69zM442.78 187.84h5.06v8.03h-5.06zM452.91 187.84h3.38v8.03h-3.38zM459.66 187.84h11.81v8.03h-11.81zM473.16 187.84h1.69v8.03h-1.69zM476.53 187.84h3.38v8.03h-3.38zM481.6 187.84h1.69v8.03h-1.69zM484.97 187.84h3.38v8.03h-3.38zM88.38 195.87h1.69v8.03h-1.69zM105.25 195.87h1.69v8.03h-1.69zM123.82 195.87h1.69v8.03h-1.69zM149.13 195.87h1.69v8.03h-1.69zM162.63 195.87h3.38v8.03h-3.38zM169.38 195.87h3.38v8.03h-3.38zM176.13 195.87h1.69v8.03h-1.69zM194.7 195.87h1.69v8.03h-1.69zM208.2 195.87h1.69v8.03h-1.69zM214.95 195.87h1.69v8.03h-1.69zM218.33 195.87h1.69v8.03h-1.69zM230.14 195.87h1.69v8.03h-1.69zM238.58 195.87h3.38v8.03h-3.38zM253.77 195.87h3.38v8.03h-3.38zM268.96 195.87h1.69v8.03h-1.69zM275.71 195.87h5.06v8.03h-5.06zM295.96 195.87h1.69v8.03h-1.69zM301.02 195.87h1.69v8.03h-1.69zM306.08 195.87h1.69v8.03h-1.69zM321.27 195.87h1.69v8.03h-1.69zM328.02 195.87h1.69v8.03h-1.69zM360.09 195.87h1.69v8.03h-1.69zM368.53 195.87h1.69v8.03h-1.69zM378.65 195.87h1.69v8.03h-1.69zM385.4 195.87h1.69v8.03h-1.69zM390.47 195.87h1.69v8.03h-1.69zM400.59 195.87h1.69v8.03h-1.69zM425.91 195.87h1.69v8.03h-1.69zM434.34 195.87h1.69v8.03h-1.69zM442.78 195.87h1.69v8.03h-1.69zM490.04 195.87h3.38v8.03h-3.38zM503.54 195.87h1.69v8.03h-1.69zM88.38 203.9h1.69v8.03h-1.69zM130.57 203.9h1.69v8.03h-1.69zM140.69 203.9h1.69v8.03h-1.69zM149.13 203.9h1.69v8.03h-1.69zM154.2 203.9h3.38v8.03h-3.38zM164.32 203.9h1.69v8.03h-1.69zM169.38 203.9h3.38v8.03h-3.38zM176.13 203.9h1.69v8.03h-1.69zM186.26 203.9h3.38v8.03h-3.38zM198.07 203.9h1.69v8.03h-1.69zM203.14 203.9h1.69v8.03h-1.69zM274.02 203.9h1.69v8.03h-1.69zM287.52 203.9h1.69v8.03h-1.69zM295.96 203.9h1.69v8.03h-1.69zM302.71 203.9h1.69v8.03h-1.69zM306.08 203.9h1.69v8.03h-1.69zM393.84 203.9h3.38v8.03h-3.38zM410.72 203.9h3.38v8.03h-3.38zM436.03 203.9h1.69v8.03h-1.69zM444.47 203.9h3.38v8.03h-3.38zM461.35 203.9h1.69v8.03h-1.69zM468.1 203.9h3.38v8.03h-3.38zM486.66 203.9h1.69v8.03h-1.69zM68.13 211.93h1.69v8.03h-1.69zM71.5 211.93h1.69v8.03h-1.69zM81.63 211.93h1.69v8.03h-1.69zM88.38 211.93h1.69v8.03h-1.69zM101.88 211.93h1.69v8.03h-1.69zM117.07 211.93h5.06v8.03h-5.06zM125.51 211.93h1.69v8.03h-1.69zM166.01 211.93h1.69v8.03h-1.69zM169.38 211.93h1.69v8.03h-1.69zM174.45 211.93h1.69v8.03h-1.69zM179.51 211.93h1.69v8.03h-1.69zM203.14 211.93h3.38v8.03h-3.38zM223.39 211.93h1.69v8.03h-1.69zM260.52 211.93h1.69v8.03h-1.69zM304.4 211.93h1.69v8.03h-1.69zM316.21 211.93h1.69v8.03h-1.69zM339.84 211.93h1.69v8.03h-1.69zM349.96 211.93h1.69v8.03h-1.69zM355.02 211.93h1.69v8.03h-1.69zM365.15 211.93h1.69v8.03h-1.69zM481.6 211.93h1.69v8.03h-1.69zM503.54 211.93h1.69v8.03h-1.69zM63.06 219.96h3.38v8.03h-3.38zM73.19 219.96h1.69v8.03h-1.69zM78.25 219.96h1.69v8.03h-1.69zM86.69 219.96h1.69v8.03h-1.69zM91.75 219.96h1.69v8.03h-1.69zM128.88 219.96h1.69v8.03h-1.69zM160.95 219.96h1.69v8.03h-1.69zM174.45 219.96h1.69v8.03h-1.69zM194.7 219.96h1.69v8.03h-1.69zM304.4 219.96h1.69v8.03h-1.69zM380.34 219.96h1.69v8.03h-1.69zM400.59 219.96h3.38v8.03h-3.38zM405.65 219.96h1.69v8.03h-1.69zM415.78 219.96h3.38v8.03h-3.38zM430.97 219.96h5.06v8.03h-5.06zM444.47 219.96h1.69v8.03h-1.69zM459.66 219.96h1.69v8.03h-1.69zM466.41 219.96h1.69v8.03h-1.69zM86.69 227.99h3.38v8.03h-3.38zM96.82 227.99h1.69v8.03h-1.69zM127.19 227.99h1.69v8.03h-1.69zM155.88 227.99h1.69v8.03h-1.69zM160.95 227.99h3.38v8.03h-3.38zM176.13 227.99h1.69v8.03h-1.69zM184.57 227.99h1.69v8.03h-1.69zM203.14 227.99h1.69v8.03h-1.69zM289.21 227.99h1.69v8.03h-1.69zM292.58 227.99h1.69v8.03h-1.69zM304.4 227.99h1.69v8.03h-1.69zM412.4 227.99h3.38v8.03h-3.38zM437.72 227.99h1.69v8.03h-1.69zM479.91 227.99h6.75v8.03h-6.75zM58 236.02h1.69v8.03h-1.69zM66.44 236.02h1.69v8.03h-1.69zM110.32 236.02h1.69v8.03h-1.69zM113.69 236.02h1.69v8.03h-1.69zM117.07 236.02h3.38v8.03h-3.38zM140.69 236.02h1.69v8.03h-1.69zM145.76 236.02h3.38v8.03h-3.38zM152.51 236.02h1.69v8.03h-1.69zM157.57 236.02h1.69v8.03h-1.69zM169.38 236.02h3.38v8.03h-3.38zM181.2 236.02h1.69v8.03h-1.69zM191.32 236.02h1.69v8.03h-1.69zM198.07 236.02h3.38v8.03h-3.38zM302.71 236.02h1.69v8.03h-1.69zM478.22 236.02h1.69v8.03h-1.69zM481.6 236.02h1.69v8.03h-1.69zM63.06 244.05h1.69v8.03h-1.69zM71.5 244.05h1.69v8.03h-1.69zM79.94 244.05h1.69v8.03h-1.69zM85 244.05h1.69v8.03h-1.69zM91.75 244.05h1.69v8.03h-1.69zM101.88 244.05h3.38v8.03h-3.38zM122.13 244.05h1.69v8.03h-1.69zM135.63 244.05h1.69v8.03h-1.69zM160.95 244.05h1.69v8.03h-1.69zM166.01 244.05h1.69v8.03h-1.69zM169.38 244.05h3.38v8.03h-3.38zM181.2 244.05h1.69v8.03h-1.69zM189.64 244.05h1.69v8.03h-1.69zM194.7 244.05h1.69v8.03h-1.69zM301.02 244.05h1.69v8.03h-1.69z" fill="#1b87b8" fill-opacity="0.9"/>
<path d="M58 115.57H508.6M58 123.6H508.6M58 131.63H508.6M58 139.66H508.6M58 147.69H508.6M58 155.72H508.6M58 163.75H508.6M58 171.78H508.6M58 179.81H508.6M58 187.84H508.6M58 195.87H508.6M58 203.9H508.6M58 211.93H508.6M58 219.96H508.6M58 227.99H508.6M58 236.02H508.6M58 244.05H508.6M58 252.08H508.6" stroke="#c8c8c8" stroke-width="1.1" fill="none"/>
<path d="M59.69 84V114.99M61.38 84V114.99M63.06 84V114.99M64.75 84V114.99M66.44 84V114.99M68.13 84V114.99M69.81 84V114.99M71.5 84V114.99M73.19 84V114.99M74.88 84V114.99M76.56 84V114.99M78.25 84V114.99M79.94 84V114.99M81.63 84V114.99M83.31 84V114.99M85 84V114.99M86.69 84V114.99M88.38 84V114.99M90.07 84V114.99M91.75 84V114.99M93.44 84V114.99M95.13 84V114.99M96.82 84V114.99M98.5 84V114.99M100.19 84V114.99M101.88 84V114.99M103.57 84V114.99M105.25 84V114.99M106.94 84V114.99M108.63 84V114.99M110.32 84V114.99M112 84V114.99M113.69 84V114.99M115.38 84V114.99M117.07 84V114.99M118.76 84V114.99M120.44 84V114.99M122.13 84V114.99M123.82 84V114.99M125.51 84V114.99M127.19 84V114.99M128.88 84V114.99M130.57 84V114.99M132.26 84V114.99M133.94 84V114.99M135.63 84V114.99M137.32 84V114.99M139.01 84V114.99M140.69 84V114.99M142.38 84V114.99M144.07 84V114.99M145.76 84V114.99M147.44 84V114.99M149.13 84V114.99M150.82 84V114.99M152.51 84V114.99M154.2 84V114.99M155.88 84V114.99M157.57 84V114.99M159.26 84V114.99M160.95 84V114.99M162.63 84V114.99M164.32 84V114.99M166.01 84V114.99M167.7 84V114.99M169.38 84V114.99M171.07 84V114.99M172.76 84V114.99M174.45 84V114.99M176.13 84V114.99M177.82 84V114.99M179.51 84V114.99M181.2 84V114.99M182.89 84V114.99M184.57 84V114.99M186.26 84V114.99M187.95 84V114.99M189.64 84V114.99M191.32 84V114.99M193.01 84V114.99M194.7 84V114.99M196.39 84V114.99M198.07 84V114.99M199.76 84V114.99M201.45 84V114.99M203.14 84V114.99M204.82 84V114.99M206.51 84V114.99M208.2 84V114.99M209.89 84V114.99M211.58 84V114.99M213.26 84V114.99M214.95 84V114.99M216.64 84V114.99M218.33 84V114.99M220.01 84V114.99M221.7 84V114.99M223.39 84V114.99M225.08 84V114.99M226.76 84V114.99M228.45 84V114.99M230.14 84V114.99M231.83 84V114.99M233.51 84V114.99M235.2 84V114.99M236.89 84V114.99M238.58 84V114.99M240.27 84V114.99M241.95 84V114.99M243.64 84V114.99M245.33 84V114.99M247.02 84V114.99M248.7 84V114.99M250.39 84V114.99M252.08 84V114.99M253.77 84V114.99M255.45 84V114.99M257.14 84V114.99M258.83 84V114.99M260.52 84V114.99M262.2 84V114.99M263.89 84V114.99M265.58 84V114.99M267.27 84V114.99M268.96 84V114.99M270.64 84V114.99M272.33 84V114.99M274.02 84V114.99M275.71 84V114.99M277.39 84V114.99M279.08 84V114.99M280.77 84V114.99M282.46 84V114.99M284.14 84V114.99M285.83 84V114.99M287.52 84V114.99M289.21 84V114.99M290.89 84V114.99M292.58 84V114.99M294.27 84V114.99M295.96 84V114.99M297.64 84V114.99M299.33 84V114.99M301.02 84V114.99M302.71 84V114.99M304.4 84V114.99M306.08 84V114.99M307.77 84V114.99M309.46 84V114.99M311.15 84V114.99M312.83 84V114.99M314.52 84V114.99M316.21 84V114.99M317.9 84V114.99M319.58 84V114.99M321.27 84V114.99M322.96 84V114.99M324.65 84V114.99M326.33 84V114.99M328.02 84V114.99M329.71 84V114.99M331.4 84V114.99M333.09 84V114.99M334.77 84V114.99M336.46 84V114.99M338.15 84V114.99M339.84 84V114.99M341.52 84V114.99M343.21 84V114.99M344.9 84V114.99M346.59 84V114.99M348.27 84V114.99M349.96 84V114.99M351.65 84V114.99M353.34 84V114.99M355.02 84V114.99M356.71 84V114.99M358.4 84V114.99M360.09 84V114.99M361.78 84V114.99M363.46 84V114.99M365.15 84V114.99M366.84 84V114.99M368.53 84V114.99M370.21 84V114.99M371.9 84V114.99M373.59 84V114.99M375.28 84V114.99M376.96 84V114.99M378.65 84V114.99M380.34 84V114.99M382.03 84V114.99M383.71 84V114.99M385.4 84V114.99M387.09 84V114.99M388.78 84V114.99M390.47 84V114.99M392.15 84V114.99M393.84 84V114.99M395.53 84V114.99M397.22 84V114.99M398.9 84V114.99M400.59 84V114.99M402.28 84V114.99M403.97 84V114.99M405.65 84V114.99M407.34 84V114.99M409.03 84V114.99M410.72 84V114.99M412.4 84V114.99M414.09 84V114.99M415.78 84V114.99M417.47 84V114.99M419.16 84V114.99M420.84 84V114.99M422.53 84V114.99M424.22 84V114.99M425.91 84V114.99M427.59 84V114.99M429.28 84V114.99M430.97 84V114.99M432.66 84V114.99M434.34 84V114.99M436.03 84V114.99M437.72 84V114.99M439.41 84V114.99M441.09 84V114.99M442.78 84V114.99M444.47 84V114.99M446.16 84V114.99M447.84 84V114.99M449.53 84V114.99M451.22 84V114.99M452.91 84V114.99M454.6 84V114.99M456.28 84V114.99M457.97 84V114.99M459.66 84V114.99M461.35 84V114.99M463.03 84V114.99M464.72 84V114.99M466.41 84V114.99M468.1 84V114.99M469.78 84V114.99M471.47 84V114.99M473.16 84V114.99M474.85 84V114.99M476.53 84V114.99M478.22 84V114.99M479.91 84V114.99M481.6 84V114.99M483.29 84V114.99M484.97 84V114.99M486.66 84V114.99M488.35 84V114.99M490.04 84V114.99M491.72 84V114.99M493.41 84V114.99M495.1 84V114.99M496.79 84V114.99M498.47 84V114.99M500.16 84V114.99M501.85 84V114.99M503.54 84V114.99M505.22 84V114.99M506.91 84V114.99" stroke="#8a8a8a" stroke-opacity="0.55" stroke-width="0.5" fill="none"/>
<text class="bw" x="55.6" y="87.8" font-size="6.5" text-anchor="end" fill="#3a3a3a" font-family='"Liberation Sans", sans-serif'><tspan font-style="italic">Age</tspan>.group</text>
<text class="bw" x="55.6" y="94.5" font-size="6.5" text-anchor="end" fill="#3a3a3a" font-family='"Liberation Sans", sans-serif'><tspan font-style="italic">Epidemiological.</tspan></text>
<text class="bw" x="55.6" y="100.4" font-size="6.5" text-anchor="end" fill="#3a3a3a" font-family='"Liberation Sans", sans-serif'>variant</text>
<text class="bw" x="55.6" y="106.9" font-size="6.5" text-anchor="end" fill="#3a3a3a" font-family='"Liberation Sans", sans-serif'><tspan font-style="italic">SOX11</tspan>.status</text>
<text class="bw" x="55.6" y="114.4" font-size="6.5" text-anchor="end" fill="#3a3a3a" font-family='"Liberation Sans", sans-serif'><tspan font-style="italic">EBV</tspan>.status</text>
<text class="bw" x="55.6" y="122.52" font-size="6.5" text-anchor="end" fill="#3a3a3a" font-family='"Liberation Sans", sans-serif'><tspan font-style="italic">MYC</tspan></text>
<text class="bw" x="55.6" y="130.55" font-size="6.5" text-anchor="end" fill="#3a3a3a" font-family='"Liberation Sans", sans-serif'><tspan font-style="italic">ID3</tspan></text>
<text class="bw" x="55.6" y="138.58" font-size="6.5" text-anchor="end" fill="#3a3a3a" font-family='"Liberation Sans", sans-serif'><tspan font-style="italic">TP53</tspan></text>
<text class="bw" x="55.6" y="146.61" font-size="6.5" text-anchor="end" fill="#3a3a3a" font-family='"Liberation Sans", sans-serif'><tspan font-style="italic">DDX3X</tspan></text>
<text class="bw" x="55.6" y="154.64" font-size="6.5" text-anchor="end" fill="#3a3a3a" font-family='"Liberation Sans", sans-serif'><tspan font-style="italic">ARID1A</tspan></text>
<text class="bw" x="55.6" y="162.67" font-size="6.5" text-anchor="end" fill="#3a3a3a" font-family='"Liberation Sans", sans-serif'><tspan font-style="italic">CCND3</tspan></text>
<text class="bw" x="55.6" y="170.7" font-size="6.5" text-anchor="end" fill="#3a3a3a" font-family='"Liberation Sans", sans-serif'><tspan font-style="italic">FOXO1</tspan></text>
<text class="bw" x="55.6" y="178.73" font-size="6.5" text-anchor="end" fill="#3a3a3a" font-family='"Liberation Sans", sans-serif'>FBXO11</text>
<text class="bw" x="55.6" y="186.76" font-size="6.5" text-anchor="end" fill="#3a3a3a" font-family='"Liberation Sans", sans-serif'><tspan font-style="italic">GNA13</tspan></text>
<text class="bw" x="55.6" y="194.79" font-size="6.5" text-anchor="end" fill="#3a3a3a" font-family='"Liberation Sans", sans-serif'><tspan font-style="italic">SMARCA4</tspan></text>
<text class="bw" x="55.6" y="202.82" font-size="6.5" text-anchor="end" fill="#3a3a3a" font-family='"Liberation Sans", sans-serif'><tspan font-style="italic">TCF3</tspan></text>
<text class="bw" x="55.6" y="210.85" font-size="6.5" text-anchor="end" fill="#3a3a3a" font-family='"Liberation Sans", sans-serif'><tspan font-style="italic">PCBP1</tspan></text>
<text class="bw" x="55.6" y="218.88" font-size="6.5" text-anchor="end" fill="#3a3a3a" font-family='"Liberation Sans", sans-serif'><tspan font-style="italic">KMT2D</tspan></text>
<text class="bw" x="55.6" y="226.91" font-size="6.5" text-anchor="end" fill="#3a3a3a" font-family='"Liberation Sans", sans-serif'><tspan font-style="italic">TFAP4</tspan></text>
<text class="bw" x="55.6" y="234.94" font-size="6.5" text-anchor="end" fill="#3a3a3a" font-family='"Liberation Sans", sans-serif'><tspan font-style="italic">GNAI2</tspan></text>
<text class="bw" x="55.6" y="242.97" font-size="6.5" text-anchor="end" fill="#3a3a3a" font-family='"Liberation Sans", sans-serif'><tspan font-style="italic">SIN3A</tspan></text>
<text class="bw" x="55.6" y="251" font-size="6.5" text-anchor="end" fill="#3a3a3a" font-family='"Liberation Sans", sans-serif'><tspan font-style="italic">ETS1</tspan></text>
<path d="M58.6 258V255.3H508V258" fill="none" stroke="#222" stroke-width="1.2"/>
<text x="59" y="269" font-size="7.2" text-anchor="middle" fill="#3a3a3a" font-family='"Liberation Sans", sans-serif'>0</text>
<text x="507.3" y="269" font-size="7.2" text-anchor="middle" fill="#3a3a3a" font-family='"Liberation Sans", sans-serif'>267</text>
<text x="108.6" y="268.8" font-size="6.6" text-anchor="start" fill="#3a3a3a" font-family='"Liberation Sans", sans-serif' textLength="28.9" lengthAdjust="spacingAndGlyphs">Mutations</text>
<text x="179.5" y="268.8" font-size="6.6" text-anchor="start" fill="#3a3a3a" font-family='"Liberation Sans", sans-serif' textLength="31.8" lengthAdjust="spacingAndGlyphs">Age group</text>
<text x="250.4" y="268.8" font-size="6.6" text-anchor="start" fill="#3a3a3a" font-family='"Liberation Sans", sans-serif' textLength="68.3" lengthAdjust="spacingAndGlyphs">Epidemiological variant</text>
<text x="357.8" y="268.8" font-size="6.6" text-anchor="start" fill="#3a3a3a" font-family='"Liberation Sans", sans-serif' textLength="38.6" lengthAdjust="spacingAndGlyphs">SOX11 status</text>
<text x="434.5" y="268.8" font-size="6.6" text-anchor="start" fill="#3a3a3a" font-family='"Liberation Sans", sans-serif' textLength="31.8" lengthAdjust="spacingAndGlyphs">EBV status</text>
<rect x="93.3" y="276.2" width="5.9" height="5.7" fill="#bdbdbd"/>
<text x="102.2" y="281.4" font-size="6.6" text-anchor="start" fill="#3a3a3a" font-family='"Liberation Sans", sans-serif' textLength="10" lengthAdjust="spacingAndGlyphs">WT</text>
<rect x="118.8" y="276.2" width="5.9" height="5.7" fill="#1e8cc6"/>
<text x="127.6" y="281.4" font-size="6.6" text-anchor="start" fill="#3a3a3a" font-family='"Liberation Sans", sans-serif' textLength="25.4" lengthAdjust="spacingAndGlyphs">Mutated</text>
<rect x="162" y="276.2" width="5.9" height="5.7" fill="#f6cf0a"/>
<text x="171.9" y="281.4" font-size="6.6" text-anchor="start" fill="#3a3a3a" font-family='"Liberation Sans", sans-serif' textLength="25.4" lengthAdjust="spacingAndGlyphs">Pediatric</text>
<rect x="202.8" y="276.2" width="5.9" height="5.7" fill="#f0a126"/>
<text x="212" y="281.4" font-size="6.6" text-anchor="start" fill="#3a3a3a" font-family='"Liberation Sans", sans-serif' textLength="16.2" lengthAdjust="spacingAndGlyphs">Adult</text>
<rect x="237.6" y="276.2" width="5.9" height="5.7" fill="#f2b9c9"/>
<text x="246.7" y="281.4" font-size="6.6" text-anchor="start" fill="#3a3a3a" font-family='"Liberation Sans", sans-serif' textLength="34.1" lengthAdjust="spacingAndGlyphs">Sporadic BL</text>
<rect x="288.2" y="276.2" width="5.9" height="5.7" fill="#a8232c"/>
<text x="297" y="281.4" font-size="6.6" text-anchor="start" fill="#3a3a3a" font-family='"Liberation Sans", sans-serif' textLength="33.8" lengthAdjust="spacingAndGlyphs">Endemic BL</text>
<rect x="340.7" y="276.2" width="5.9" height="5.7" fill="#22b5dc"/>
<text x="349.8" y="281.4" font-size="6.6" text-anchor="start" fill="#3a3a3a" font-family='"Liberation Sans", sans-serif' textLength="23.5" lengthAdjust="spacingAndGlyphs">SOX11–</text>
<rect x="379.6" y="276.2" width="5.9" height="5.7" fill="#25257a"/>
<text x="388.6" y="281.4" font-size="6.6" text-anchor="start" fill="#3a3a3a" font-family='"Liberation Sans", sans-serif' textLength="24.8" lengthAdjust="spacingAndGlyphs">SOX11+</text>
<rect x="422.5" y="276.2" width="5.9" height="5.7" fill="#4f86d2"/>
<text x="431.8" y="281.4" font-size="6.6" text-anchor="start" fill="#3a3a3a" font-family='"Liberation Sans", sans-serif' textLength="14.4" lengthAdjust="spacingAndGlyphs">EBV–</text>
<rect x="455.7" y="276.2" width="5.9" height="5.7" fill="#7c1a84"/>
<text x="463.5" y="281.4" font-size="6.6" text-anchor="start" fill="#3a3a3a" font-family='"Liberation Sans", sans-serif' textLength="14.8" lengthAdjust="spacingAndGlyphs">EBV+</text>
<text x="64.7" y="315.6" font-size="11.6" font-weight="bold" fill="#111" stroke="#111" stroke-width="0.5" font-family='"Liberation Sans", sans-serif'>B</text>
<path d="M115 322.3V437.4" fill="none" stroke="#333" stroke-width="1.3"/>
<path d="M111.8 437.2H115" stroke="#333" stroke-width="1"/>
<text x="109.2" y="439.6" font-size="6.6" text-anchor="end" fill="#3a3a3a" font-family='"Liberation Sans", sans-serif'>0</text>
<path d="M111.8 414.8H115" stroke="#333" stroke-width="1"/>
<text x="109.2" y="417.2" font-size="6.6" text-anchor="end" fill="#3a3a3a" font-family='"Liberation Sans", sans-serif'>20</text>
<path d="M111.8 392.4H115" stroke="#333" stroke-width="1"/>
<text x="109.2" y="394.8" font-size="6.6" text-anchor="end" fill="#3a3a3a" font-family='"Liberation Sans", sans-serif'>40</text>
<path d="M111.8 370H115" stroke="#333" stroke-width="1"/>
<text x="109.2" y="372.4" font-size="6.6" text-anchor="end" fill="#3a3a3a" font-family='"Liberation Sans", sans-serif'>60</text>
<path d="M111.8 347.6H115" stroke="#333" stroke-width="1"/>
<text x="109.2" y="350" font-size="6.6" text-anchor="end" fill="#3a3a3a" font-family='"Liberation Sans", sans-serif'>80</text>
<path d="M111.8 325.2H115" stroke="#333" stroke-width="1"/>
<text x="109.2" y="327.6" font-size="6.6" text-anchor="end" fill="#3a3a3a" font-family='"Liberation Sans", sans-serif'>100</text>
<text transform="translate(82.9 379) rotate(-90)" font-size="7" text-anchor="middle" fill="#3a3a3a" font-family='"Liberation Sans", sans-serif' textLength="91" lengthAdjust="spacingAndGlyphs">Frequency of mutated patients</text>
<text transform="translate(92.3 380.5) rotate(-90)" font-size="7" text-anchor="middle" fill="#3a3a3a" font-family='"Liberation Sans", sans-serif' textLength="49.7" lengthAdjust="spacingAndGlyphs">(in percentage)</text>
<path d="M115.3 437.4H455.7" fill="none" stroke="#222" stroke-width="1.1"/>
<rect x="120.15" y="425.52" width="6.5" height="11.78" fill="#5a1d6c"/>
<rect x="130.35" y="388.6" width="6.5" height="48.7" fill="#39a9e1"/>
<rect x="140.55" y="377.5" width="6.5" height="59.8" fill="#154e80"/>
<path d="M133.6 437.4V440.3" stroke="#333" stroke-width="0.9"/>
<text x="133.6" y="449.3" font-size="6.8" font-style="italic" text-anchor="middle" fill="#3a3a3a" font-family='"Liberation Sans", sans-serif'>CCND3</text>
<rect x="157.87" y="367.65" width="6.5" height="69.65" fill="#5a1d6c"/>
<rect x="168.07" y="385.43" width="6.5" height="51.87" fill="#39a9e1"/>
<rect x="178.27" y="397.66" width="6.5" height="39.64" fill="#154e80"/>
<path d="M171.32 437.4V440.3" stroke="#333" stroke-width="0.9"/>
<text x="171.32" y="449.3" font-size="6.8" font-style="italic" text-anchor="middle" fill="#3a3a3a" font-family='"Liberation Sans", sans-serif'>DDX3X</text>
<rect x="195.59" y="417.48" width="6.5" height="19.82" fill="#5a1d6c"/>
<rect x="205.79" y="401.51" width="6.5" height="35.79" fill="#39a9e1"/>
<rect x="215.99" y="399.7" width="6.5" height="37.6" fill="#154e80"/>
<path d="M209.04 437.4V440.3" stroke="#333" stroke-width="0.9"/>
<text x="209.04" y="449.3" font-size="6.8" font-style="italic" text-anchor="middle" fill="#3a3a3a" font-family='"Liberation Sans", sans-serif'>FBXO11</text>
<rect x="233.31" y="401.97" width="6.5" height="35.33" fill="#5a1d6c"/>
<rect x="243.51" y="418.5" width="6.5" height="18.8" fill="#39a9e1"/>
<rect x="253.71" y="418.5" width="6.5" height="18.8" fill="#154e80"/>
<path d="M246.76 437.4V440.3" stroke="#333" stroke-width="0.9"/>
<text x="246.76" y="449.3" font-size="6.8" font-style="italic" text-anchor="middle" fill="#3a3a3a" font-family='"Liberation Sans", sans-serif'>FOXO1</text>
<rect x="271.03" y="399.02" width="6.5" height="38.28" fill="#5a1d6c"/>
<rect x="281.23" y="366.63" width="6.5" height="70.67" fill="#39a9e1"/>
<rect x="291.43" y="347.27" width="6.5" height="90.03" fill="#154e80"/>
<path d="M284.48 437.4V440.3" stroke="#333" stroke-width="0.9"/>
<text x="284.48" y="449.3" font-size="6.8" font-style="italic" text-anchor="middle" fill="#3a3a3a" font-family='"Liberation Sans", sans-serif'>ID3</text>
<rect x="308.75" y="372.29" width="6.5" height="65.01" fill="#5a1d6c"/>
<rect x="318.95" y="360.52" width="6.5" height="76.78" fill="#39a9e1"/>
<rect x="329.15" y="353.04" width="6.5" height="84.26" fill="#154e80"/>
<path d="M322.2 437.4V440.3" stroke="#333" stroke-width="0.9"/>
<text x="322.2" y="449.3" font-size="6.8" font-style="italic" text-anchor="middle" fill="#3a3a3a" font-family='"Liberation Sans", sans-serif'>MYC</text>
<rect x="346.47" y="417.71" width="6.5" height="19.59" fill="#5a1d6c"/>
<rect x="356.67" y="430.84" width="6.5" height="6.46" fill="#39a9e1"/>
<rect x="366.87" y="433.22" width="6.5" height="4.08" fill="#154e80"/>
<path d="M359.92 437.4V440.3" stroke="#333" stroke-width="0.9"/>
<text x="359.92" y="449.3" font-size="6.8" font-style="italic" text-anchor="middle" fill="#3a3a3a" font-family='"Liberation Sans", sans-serif'>SIN3A</text>
<rect x="384.19" y="426.88" width="6.5" height="10.42" fill="#5a1d6c"/>
<rect x="394.39" y="417.48" width="6.5" height="19.82" fill="#39a9e1"/>
<rect x="404.59" y="389.51" width="6.5" height="47.79" fill="#154e80"/>
<path d="M397.64 437.4V440.3" stroke="#333" stroke-width="0.9"/>
<text x="397.64" y="449.3" font-size="6.8" font-style="italic" text-anchor="middle" fill="#3a3a3a" font-family='"Liberation Sans", sans-serif'>SMARCA4</text>
<rect x="421.91" y="411.93" width="6.5" height="25.37" fill="#5a1d6c"/>
<rect x="432.11" y="375.92" width="6.5" height="61.38" fill="#39a9e1"/>
<rect x="442.31" y="373.65" width="6.5" height="63.65" fill="#154e80"/>
<path d="M435.36 437.4V440.3" stroke="#333" stroke-width="0.9"/>
<text x="435.36" y="449.3" font-size="6.8" font-style="italic" text-anchor="middle" fill="#3a3a3a" font-family='"Liberation Sans", sans-serif'>TP53</text>
<path d="M122.9 373.8H144.3" stroke="#444" stroke-width="0.9"/>
<text x="133.6" y="375.1" font-size="6.5" text-anchor="middle" fill="#444" font-family='"Liberation Sans", sans-serif'>****</text>
<path d="M122.9 383.8H134.1" stroke="#444" stroke-width="0.9"/>
<text x="128.5" y="385.1" font-size="6.5" text-anchor="middle" fill="#444" font-family='"Liberation Sans", sans-serif'>****</text>
<path d="M160.62 364.2H182.02" stroke="#444" stroke-width="0.9"/>
<text x="171.32" y="365.5" font-size="6.5" text-anchor="middle" fill="#444" font-family='"Liberation Sans", sans-serif'>**</text>
<path d="M198.34 395.1H219.74" stroke="#444" stroke-width="0.9"/>
<text x="209.04" y="396.4" font-size="6.5" text-anchor="middle" fill="#444" font-family='"Liberation Sans", sans-serif'>*</text>
<path d="M236.06 389.5H257.46" stroke="#444" stroke-width="0.9"/>
<text x="246.76" y="390.8" font-size="6.5" text-anchor="middle" fill="#444" font-family='"Liberation Sans", sans-serif'>*</text>
<path d="M236.06 398H247.26" stroke="#444" stroke-width="0.9"/>
<text x="241.66" y="399.3" font-size="6.5" text-anchor="middle" fill="#444" font-family='"Liberation Sans", sans-serif'>*</text>
<path d="M273.78 334.2H295.18" stroke="#444" stroke-width="0.9"/>
<text x="284.48" y="335.5" font-size="6.5" text-anchor="middle" fill="#444" font-family='"Liberation Sans", sans-serif'>****</text>
<path d="M283.98 344.2H295.18" stroke="#444" stroke-width="0.9"/>
<text x="289.58" y="345.5" font-size="6.5" text-anchor="middle" fill="#444" font-family='"Liberation Sans", sans-serif'>*</text>
<path d="M273.78 362.2H284.98" stroke="#444" stroke-width="0.9"/>
<text x="279.38" y="363.5" font-size="6.5" text-anchor="middle" fill="#444" font-family='"Liberation Sans", sans-serif'>***</text>
<path d="M311.5 350.4H332.9" stroke="#444" stroke-width="0.9"/>
<text x="322.2" y="351.7" font-size="6.5" text-anchor="middle" fill="#444" font-family='"Liberation Sans", sans-serif'>*</text>
<path d="M349.22 412.8H370.62" stroke="#444" stroke-width="0.9"/>
<text x="359.92" y="414.1" font-size="6.5" text-anchor="middle" fill="#444" font-family='"Liberation Sans", sans-serif'>*</text>
<path d="M386.94 376.1H408.34" stroke="#444" stroke-width="0.9"/>
<text x="397.64" y="377.4" font-size="6.5" text-anchor="middle" fill="#444" font-family='"Liberation Sans", sans-serif'>****</text>
<path d="M397.14 385.3H408.34" stroke="#444" stroke-width="0.9"/>
<text x="402.74" y="386.6" font-size="6.5" text-anchor="middle" fill="#444" font-family='"Liberation Sans", sans-serif'>*</text>
<path d="M424.66 364.3H446.06" stroke="#444" stroke-width="0.9"/>
<text x="435.36" y="365.6" font-size="6.5" text-anchor="middle" fill="#444" font-family='"Liberation Sans", sans-serif'>****</text>
<path d="M424.66 372.6H435.86" stroke="#444" stroke-width="0.9"/>
<text x="430.26" y="373.9" font-size="6.5" text-anchor="middle" fill="#444" font-family='"Liberation Sans", sans-serif'>****</text>
<rect x="179.2" y="457.8" width="6" height="5.8" fill="#5a1d6c"/>
<text x="188.3" y="462.6" font-size="6.6" text-anchor="start" fill="#3a3a3a" font-family='"Liberation Sans", sans-serif' textLength="44.2" lengthAdjust="spacingAndGlyphs">EBV+ (n = 110)</text>
<rect x="238.3" y="457.8" width="6" height="5.8" fill="#39a9e1"/>
<text x="247.7" y="462.6" font-size="6.6" text-anchor="start" fill="#3a3a3a" font-family='"Liberation Sans", sans-serif' textLength="65.3" lengthAdjust="spacingAndGlyphs">EBV–/SOX11– (n = 76)</text>
<rect x="317.9" y="457.8" width="6" height="5.8" fill="#154e80"/>
<text x="327" y="462.6" font-size="6.6" text-anchor="start" fill="#3a3a3a" font-family='"Liberation Sans", sans-serif' textLength="66" lengthAdjust="spacingAndGlyphs">EBV–/SOX11+ (n = 81)</text>
<rect x="0.5" y="0.5" width="519" height="470" fill="none" stroke="#4a4a4a" stroke-width="1"/>
</svg>
</body></html>
